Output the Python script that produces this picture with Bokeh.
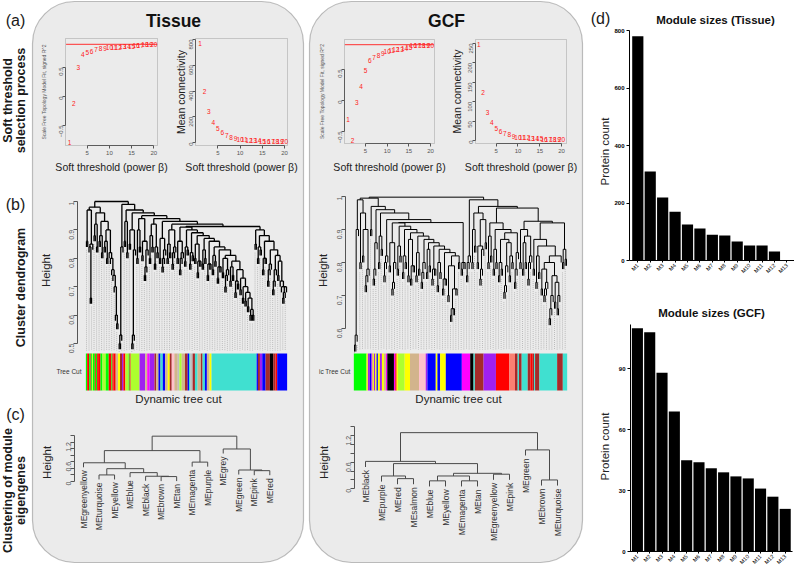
import math
import numpy as np
from bokeh.plotting import figure
from bokeh.models import Range1d, LinearAxis, FixedTicker, BoxAnnotation
from bokeh.core.properties import value
from bokeh.embed import file_html
from bokeh.resources import INLINE

W, H = 794, 568
FONT = "Liberation Sans"

# ---------------------------------------------------------------- data
powers = list(range(1, 21))
tis_fit = [-0.79, -0.12, 0.50, 0.72, 0.76, 0.77, 0.81, 0.82, 0.83, 0.84,
           0.85, 0.85, 0.86, 0.87, 0.87, 0.88, 0.88, 0.89, 0.89, 0.89]
tis_k = [767, 398, 240, 155, 108, 78, 56, 42, 33, 26,
         21, 17, 14, 12, 10, 9, 8, 7, 6, 5]
gcf_fit = [-0.31, -0.65, -0.03, 0.23, 0.48, 0.64, 0.70, 0.72, 0.76, 0.79,
           0.81, 0.82, 0.83, 0.84, 0.86, 0.89, 0.89, 0.89, 0.89, 0.89]
gcf_k = [247, 124, 71, 46, 31, 23, 18, 15, 11, 9,
         7.5, 6.5, 5.5, 4.5, 4, 3.5, 3, 2.5, 2.2, 2]
fit_cutoff = 0.9

modules = ["M1", "M2", "M3", "M4", "M5", "M6", "M7", "M8", "M9", "M10", "M11", "M12", "M13"]
tis_module_size = [780, 310, 219, 170, 125, 111, 90, 87, 66, 52, 52, 31, 0]
gcf_module_size = [110, 108, 88, 69, 45, 44, 41, 39, 37, 36, 31, 27, 21]

# protein dendrograms:
# *_tree_join  : height joining neighbouring leaf groups, left to right
# *_leaf_depth : height at which the proteins inside each leaf group join (lower tips)
tis_tree_join = [0.97, 0.66, 0.98, 0.92, 0.96, 0.88, 0.93, 0.86, 0.90, 0.80, 0.74, 0.60,
                 1.00,
                 0.53, 0.99, 0.93, 0.97, 0.90, 0.53, 0.96, 0.90, 0.94, 0.86, 0.77, 0.95,
                 0.88, 0.92, 0.84, 0.94, 0.87, 0.80, 0.93, 0.85, 0.90, 0.82, 0.92, 0.86,
                 0.80, 0.91, 0.84, 0.90, 0.82, 0.89, 0.85, 0.79, 0.88, 0.83, 0.87, 0.78,
                 0.86, 0.81, 0.84, 0.77, 0.83, 0.80, 0.74, 0.81, 0.77, 0.79, 0.72, 0.76,
                 0.73, 0.70, 0.68, 0.66, 0.62,
                 0.912,
                 0.90, 0.84, 0.88, 0.80, 0.86, 0.76, 0.83, 0.72, 0.81, 0.79, 0.70, 0.68]
tis_leaf_depth = [0.86, 0.84, 0.85, 0.88, 0.84, 0.86, 0.82, 0.84, 0.80, 0.82, 0.76, 0.70, 0.57,
                  0.50, 0.84, 0.86, 0.82, 0.85, 0.50, 0.83, 0.80, 0.84, 0.81, 0.74, 0.83, 0.80,
                  0.84, 0.78, 0.82, 0.80, 0.77,
                  0.83, 0.80, 0.82, 0.78, 0.84, 0.80, 0.76, 0.82, 0.79, 0.83, 0.78, 0.81, 0.80,
                  0.75, 0.79,
                  0.78, 0.80, 0.74, 0.78, 0.76, 0.79, 0.73, 0.77, 0.75, 0.70, 0.76, 0.72, 0.74,
                  0.68, 0.71, 0.69, 0.66, 0.65, 0.63, 0.60, 0.60,
                  0.85, 0.80, 0.83, 0.76, 0.80, 0.72, 0.78, 0.69, 0.76, 0.74, 0.72, 0.66, 0.70]
gcf_tree_join = [0.58, 0.99, 0.95, 0.90, 0.76, 0.995,
                 0.97, 0.78, 0.96, 0.88, 0.95, 0.80, 0.93, 0.86, 0.74, 0.92, 0.85, 0.91,
                 0.82, 0.90, 0.87, 0.79, 0.89, 0.83, 0.88, 0.77, 0.87, 0.84, 0.86, 0.78,
                 0.85, 0.80, 0.84, 0.75, 0.83, 0.79, 0.66, 0.72, 0.82, 0.921, 0.80,
                 0.998,
                 0.80, 0.99, 0.90, 0.95, 0.85, 0.78, 0.93, 0.97, 0.88, 0.92, 0.84, 0.90,
                 0.80, 0.87, 0.73, 0.86, 0.82, 0.89, 0.78, 0.965, 0.90, 0.86, 0.88, 0.80,
                 0.925, 0.87, 0.82, 0.85, 0.78, 0.72, 0.80, 0.66, 0.76, 0.74, 0.70, 0.92, 0.84]
gcf_leaf_depth = [0.55, 0.90, 0.80, 0.82, 0.73, 0.78,
                  0.90, 0.75, 0.86, 0.80, 0.84, 0.76, 0.82, 0.79, 0.72, 0.80, 0.78, 0.82, 0.77,
                  0.80, 0.76, 0.75, 0.79, 0.76, 0.78, 0.74, 0.80, 0.77, 0.79, 0.75, 0.78, 0.73,
                  0.77, 0.72, 0.75, 0.70, 0.64, 0.66, 0.72, 0.80, 0.78, 0.80,
                  0.76, 0.82, 0.80, 0.85, 0.80, 0.75, 0.84, 0.86, 0.80, 0.82, 0.78, 0.80, 0.76,
                  0.78, 0.71, 0.79, 0.76, 0.80, 0.74, 0.83, 0.80, 0.78, 0.80, 0.75, 0.82, 0.78,
                  0.74, 0.77, 0.72, 0.70, 0.74, 0.63, 0.70, 0.68, 0.66, 0.82, 0.80, 0.81]

R_COLORS = {"turquoise": "#40E0D0", "blue": "#0000FF", "brown": "#A52A2A", "yellow": "#FFFF00",
            "green": "#00FF00", "red": "#FF0000", "black": "#000000", "pink": "#FFC0CB",
            "magenta": "#FF00FF", "purple": "#A020F0", "greenyellow": "#ADFF2F", "tan": "#D2B48C",
            "salmon": "#FA8072", "grey": "#BEBEBE"}

tis_cut_colors = ["green", "red", "green", "red", "green", "yellow", "green", "red", "green", "red",
                  "red", "green", "greenyellow", "green", "red", "green", "red", "red", "tan", "yellow",
                  "brown", "purple", "red", "greenyellow", "green", "red", "greenyellow", "purple", "tan",
                  "magenta", "purple", "brown", "tan", "blue", "turquoise", "blue", "tan", "yellow",
                  "brown", "pink", "tan", "grey", "greenyellow", "tan", "brown", "blue", "turquoise",
                  "grey", "brown", "turquoise", "tan", "brown", "turquoise", "blue", "tan", "yellow",
                  "turquoise", "blue", "brown", "purple", "blue", "brown", "black", "brown", "red", "blue"]
tis_cut_widths = [4, 6, 4, 2, 3, 2, 6, 3, 4, 3,
                  7, 6, 10, 9, 8, 3, 3, 7, 7, 6,
                  6, 4, 6, 10, 3, 3, 27, 17, 6,
                  7, 15, 5, 7, 6, 7, 7, 8, 6,
                  6, 8, 10, 5, 7, 10, 8, 4, 4,
                  7, 7, 8, 10, 5, 7, 6, 8, 6,
                  136, 4, 6, 7, 10, 13, 10, 7, 5, 30]
gcf_cut_colors = ["green", "yellow", "purple", "blue", "purple", "yellow", "purple", "yellow", "blue",
                  "yellow", "purple", "yellow", "tan", "magenta", "black", "magenta", "red", "yellow",
                  "greenyellow", "yellow", "tan", "pink", "purple", "blue", "yellow", "blue", "yellow",
                  "blue", "magenta", "black", "turquoise", "brown", "purple", "red", "salmon", "brown",
                  "turquoise", "brown", "turquoise", "brown", "red", "brown", "turquoise", "brown",
                  "turquoise", "brown", "turquoise"]
gcf_cut_widths = [38, 4, 6, 4, 4, 4, 4, 4, 4,
                  6, 6, 6, 6, 4, 20, 4, 4, 4,
                  20, 16, 27, 20, 5, 25, 5, 8, 17,
                  48, 25, 10, 4, 26, 37, 40, 17, 8,
                  4, 8, 18, 8, 7, 4, 3, 13,
                  53, 17, 13]

tis_eig_leaves = ["MEgreenyellow", "MEturquoise", "MEyellow", "MEblue", "MEblack", "MEbrown", "MEtan",
                  "MEmagenta", "MEpurple", "MEgrey", "MEgreen", "MEpink", "MEred"]
tis_eig_join = [0.57, 0.20, 0.39, 0.27, 0.16, 0.15, 0.94, 0.59, 1.38, 0.99, 0.35, 0.33]
gcf_eig_leaves = ["MEblack", "MEpurple", "MEred", "MEsalmon", "MEblue", "MEyellow", "MEmagenta",
                  "MEtan", "MEgreenyellow", "MEpink", "MEgreen", "MEbrown", "MEturquoise"]
gcf_eig_join = [0.62, 0.29, 0.23, 0.57, 0.18, 0.29, 0.18, 0.35, 0.33, 1.27, 0.88, 0.20]

# ---------------------------------------------------------------- figure
p = figure(width=W, height=H, x_range=Range1d(0, W), y_range=Range1d(H, 0),
           x_axis_type=None, y_axis_type=None, toolbar_location=None,
           output_backend="svg", min_border=0, outline_line_color=None,
           background_fill_color="white", border_fill_color="white")
p.grid.visible = False

xr, yr = {}, {}


def add_x(name, p0, d0, p1, d1):
    s = (p1 - p0) / (d1 - d0)
    start = d0 - p0 / s
    xr[name] = Range1d(start, start + W / s)


def add_y(name, p0, d0, p1, d1):
    s = (p0 - p1) / (d1 - d0)
    start = d0 - (H - p0) / s
    yr[name] = Range1d(start, start + H / s)


def interleave(depth, join):
    full = []
    for i, d in enumerate(depth):
        full.append(d)
        if i < len(join):
            full.append(join[i])
    return full


tis_full = interleave(tis_leaf_depth, tis_tree_join)
gcf_full = interleave(gcf_leaf_depth, gcf_tree_join)
n_tis = len(tis_full) + 1
n_gcf = len(gcf_full) + 1

# panel (a)
add_x("a1x", 86.7, 5, 153.3, 20); add_y("a1y", 96, 0.0, 67, 0.5)
add_x("a2x", 217.3, 5, 284.0, 20); add_y("a2y", 142, 0, 39, 800)
add_x("a3x", 365.0, 5, 430.0, 20); add_y("a3y", 100, 0.0, 69, 0.5)
add_x("a4x", 495.7, 5, 561.0, 20); add_y("a4y", 140, 0, 43, 250)
# panel (b)
add_x("b1x", 86, 0, 286, n_tis - 1); add_y("b1y", 343, 0.5, 201, 1.0)
add_x("b2x", 354, 0, 566, n_gcf - 1); add_y("b2y", 328, 0.6, 196, 1.0)
# panel (c)
add_x("c1x", 83, 0, 269.3, 12); add_y("c1y", 481, 0.0, 435, 1.4)
add_x("c2x", 365, 0, 557, 12); add_y("c2y", 488.3, 0.0, 426.4, 1.4)
# panel (d)
add_x("d1x", 637.3, 1, 786.4, 13); add_y("d1y", 260, 0, 30, 800)
add_x("d2x", 636.9, 1, 784.7, 13); add_y("d2y", 551, 0, 368.3, 90)
p.extra_x_ranges = xr
p.extra_y_ranges = yr


def label(x, y, txt, size, angle=0.0, align="center", baseline="middle", bold=False, color="#1a1a1a"):
    p.text(x=[x], y=[y], text=[txt], angle=angle, text_align=align, text_baseline=baseline,
           text_font=value(FONT), text_font_size=f"{size}px",
           text_font_style="bold" if bold else "normal", text_color=color)


def axis(side, rname, loc, ticks, bounds, size=6, color="#555555", orient=None, minor=None,
         bold=False, tick_out=3, standoff=2, overrides=None, line=True):
    ax = LinearAxis(fixed_location=loc, ticker=FixedTicker(ticks=ticks, minor_ticks=minor or []),
                    bounds=bounds)
    if side in ("left", "right"):
        ax.y_range_name = rname
    else:
        ax.x_range_name = rname
    ax.axis_line_color = color if line else None
    ax.major_tick_line_color = color
    ax.minor_tick_line_color = color
    ax.major_tick_out = tick_out
    ax.major_tick_in = 0
    ax.minor_tick_out = tick_out
    ax.minor_tick_in = 0
    ax.major_label_standoff = standoff
    ax.major_label_text_font = FONT
    ax.major_label_text_font_size = f"{size}px"
    ax.major_label_text_color = color
    if bold:
        ax.major_label_text_font_style = "bold"
    if orient is not None:
        ax.major_label_orientation = orient
    if overrides:
        ax.major_label_overrides = overrides
    p.add_layout(ax, side)


# rounded panels
for left, right in [(32, 303), (309, 582)]:
    p.add_layout(BoxAnnotation(left=left, right=right, top=1, bottom=562, fill_color="#ebebeb",
                               fill_alpha=1, line_color="#333333", line_width=1.2,
                               border_radius=42, level="underlay"))

# left side labels
label(15, 20, "(a)", 16)
label(7, 100, "Soft threshold", 12.5, angle=math.pi / 2, bold=True)
label(20.5, 100, "selection process", 12.5, angle=math.pi / 2, bold=True)
label(15, 204, "(b)", 16)
label(20, 287, "Cluster dendrogram", 12.5, angle=math.pi / 2, bold=True)
label(15, 414, "(c)", 16)
label(7, 490, "Clustering of module", 12.5, angle=math.pi / 2, bold=True)
label(20.5, 490, "eigengenes", 12.5, angle=math.pi / 2, bold=True)
label(173, 20, "Tissue", 17.5, bold=True, color="#111111")
label(446, 20, "GCF", 17.5, bold=True, color="#111111")

# ---------------------------------------------------------------- (a) soft threshold plots
a_frames = [(65, 157, 38, 145), (195, 287, 38, 145), (344, 434, 39, 143), (475, 566, 39, 143)]
for (l, r, t, b) in a_frames:
    p.add_layout(BoxAnnotation(left=l, right=r, top=t, bottom=b, fill_alpha=0,
                               line_color="#6e6e6e", line_width=1))

a_specs = [("a1", tis_fit, a_frames[0], [-0.5, 0.0, 0.5], True),
           ("a2", tis_k, a_frames[1], [0, 200, 400, 600, 800], False),
           ("a3", gcf_fit, a_frames[2], [-0.5, 0.0, 0.5], True),
           ("a4", gcf_k, a_frames[3], [0, 50, 100, 150, 200, 250], False)]
xlim = (1 - 0.04 * 19, 20 + 0.04 * 19)
for name, vals, (l, r, t, b), yt, is_fit in a_specs:
    if is_fit:
        p.segment(x0=[xlim[0]], x1=[xlim[1]], y0=[fit_cutoff], y1=[fit_cutoff], line_color="#ff3030",
                  line_width=1, x_range_name=name + "x", y_range_name=name + "y")
    p.text(x=powers, y=vals, text=[str(v) for v in powers], text_color="#ff2020",
           text_font=value(FONT), text_font_size="6.5px", text_align="center", text_baseline="middle",
           x_range_name=name + "x", y_range_name=name + "y")
    axis("below", name + "x", b, [5, 10, 15, 20], (5, 20))
    axis("left", name + "y", l, yt, (yt[0], yt[-1]), orient=math.pi / 2)
    label((l + r) / 2, 166, "Soft threshold (power β)", 10.5, color="#222222")

label(43, 91.5, "Scale Free Topology Model Fit, signed R^2", 5, angle=math.pi / 2, color="#555555")
label(321, 91, "Scale Free Topology Model Fit, signed R^2", 5, angle=math.pi / 2, color="#555555")
label(180, 91.5, "Mean connectivity", 10.5, angle=math.pi / 2, color="#222222")
label(456, 91, "Mean connectivity", 10.5, angle=math.pi / 2, color="#222222")


# ---------------------------------------------------------------- dendrogram helper
def tree_segments(J, hang):
    xs0, ys0, xs1, ys1 = [], [], [], []
    leaf_end = [0.0] * (len(J) + 1)

    def build(lo, hi):
        if lo == hi:
            return float(lo), None, lo
        k = lo + int(np.argmax(J[lo:hi]))
        h = J[k]
        xs = []
        for cx, ch, leaf in (build(lo, k), build(k + 1, hi)):
            if ch is None:
                ch = h - hang
                leaf_end[leaf] = ch
            xs0.append(cx); ys0.append(ch); xs1.append(cx); ys1.append(h)
            xs.append(cx)
        xs0.append(xs[0]); ys0.append(h); xs1.append(xs[1]); ys1.append(h)
        return (xs[0] + xs[1]) / 2, h, None

    build(0, len(J))
    return dict(x0=xs0, y0=ys0, x1=xs1, y1=ys1), leaf_end


# ---------------------------------------------------------------- (b) protein dendrograms
b_specs = [("b1", tis_full, tis_cut_colors, tis_cut_widths, 0.475, 77,
            [0.5, 0.6, 0.7, 0.8, 0.9, 1.0], 1.3),
           ("b2", gcf_full, gcf_cut_colors, gcf_cut_widths, 0.536, 345,
            [0.6, 0.7, 0.8, 0.9, 1.0], 1.0)]
for name, J, cols, widths, bottom, axloc, yt, lw in b_specs:
    segs, ends = tree_segments(J, 0.02)
    n = len(J) + 1
    gi = list(range(0, n, 2))
    p.segment(x0=gi, x1=gi, y0=[ends[i] - 0.01 for i in gi], y1=[bottom] * len(gi),
              line_color="#a8a8a8", line_width=0.7, line_dash="1 1",
              x_range_name=name + "x", y_range_name=name + "y")
    p.segment(x0=segs["x0"], y0=segs["y0"], x1=segs["x1"], y1=segs["y1"],
              line_color="#000000", line_width=lw, x_range_name=name + "x", y_range_name=name + "y")
    total = float(sum(widths))
    edges = np.concatenate([[0.0], np.cumsum(widths)]) / total * n - 0.5
    p.quad(left=list(edges[:-1]), right=list(edges[1:]), top=[353] * len(cols), bottom=[390] * len(cols),
           fill_color=[R_COLORS[c] for c in cols], line_color=None, x_range_name=name + "x")
    axis("left", name + "y", axloc, yt, (yt[0], yt[-1]), size=7, orient=math.pi / 2, tick_out=4)

label(45, 270, "Height", 11.5, angle=math.pi / 2, color="#222222")
label(322, 270, "Height", 11.5, angle=math.pi / 2, color="#222222")
label(81, 371, "Tree Cut", 6.5, align="right", color="#333333")
label(350, 371, "ic Tree Cut", 6.5, align="right", color="#333333")
label(178, 398, "Dynamic tree cut", 11.5, color="#222222")
label(458, 398, "Dynamic tree cut", 11.5, color="#222222")

# ---------------------------------------------------------------- (c) eigengene dendrograms
c_specs = [("c1", tis_eig_join, tis_eig_leaves, 74), ("c2", gcf_eig_join, gcf_eig_leaves, 354)]
for name, J, leaves, axloc in c_specs:
    segs, ends = tree_segments(J, 0.1 * max(J))
    p.segment(x0=segs["x0"], y0=segs["y0"], x1=segs["x1"], y1=segs["y1"],
              line_color="#4a4a4a", line_width=1, x_range_name=name + "x", y_range_name=name + "y")
    p.text(x=list(range(len(leaves))), y=ends, text=leaves, angle=math.pi / 2, text_align="right",
           text_baseline="middle", y_offset=3, text_font=value(FONT), text_font_size="8.5px",
           text_color="#333333", x_range_name=name + "x", y_range_name=name + "y")
    axis("left", name + "y", axloc, [0.0, 0.6, 1.2], (0.0, 1.4), size=7, orient=math.pi / 2,
         minor=[0.2, 0.4, 0.8, 1.0, 1.4], tick_out=4)

label(46.5, 462, "Height", 11.5, angle=math.pi / 2, color="#222222")
label(323, 462, "Height", 11.5, angle=math.pi / 2, color="#222222")

# ---------------------------------------------------------------- (d) module sizes
label(600, 18, "(d)", 16)
label(715, 19, "Module sizes (Tissue)", 11.5, bold=True, color="#111111")
label(711, 312, "Module sizes (GCF)", 11.5, bold=True, color="#111111")
label(604, 151, "Protein count", 11.5, angle=math.pi / 2, color="#222222")
label(604, 446, "Protein count", 11.5, angle=math.pi / 2, color="#222222")

xs = list(range(1, len(modules) + 1))
mod_labels = {i + 1: m for i, m in enumerate(modules)}
for name, sizes, yt, ytop, yloc, xloc in [("d1", tis_module_size, [0, 200, 400, 600, 800], 800, 629, 260),
                                          ("d2", gcf_module_size, [0, 30, 60, 90], 112, 630, 551)]:
    p.vbar(x=xs, top=sizes, bottom=0, width=0.9, fill_color="#000000", line_color=None,
           x_range_name=name + "x", y_range_name=name + "y")
    axis("left", name + "y", yloc, yt, (0, ytop), size=6, color="#000000", bold=True, tick_out=3)
    axis("below", name + "x", xloc, xs, (0.3, 13.6), size=5.5, color="#000000", orient=math.pi / 4,
         tick_out=2, overrides=mod_labels)

open("out.html", "w").write(file_html(p, INLINE))
